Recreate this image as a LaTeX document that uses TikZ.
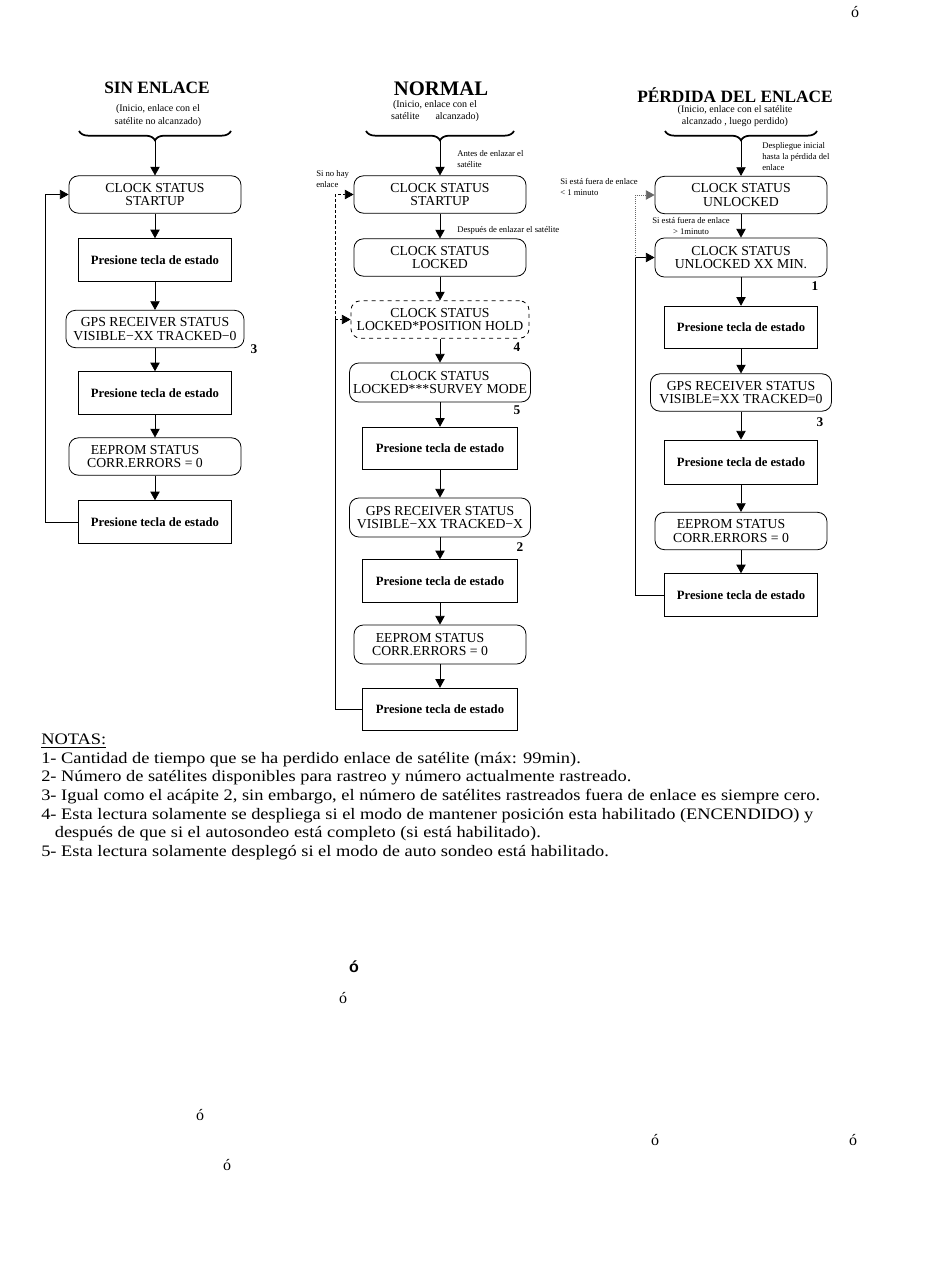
\documentclass[tikz,border=0pt]{standalone}
\usepackage{fontspec}
\setmainfont{Liberation Serif}
\newfontfamily\boldsans{Liberation Sans}
\newfontfamily\widefont[FakeStretch=1.15]{Liberation Serif}
\usetikzlibrary{arrows.meta,decorations.pathreplacing}

\tikzset{
  flow/.style={-{Triangle[width=7pt,length=6.5pt]}, line width=0.6pt},
  statebox/.style={draw, rounded corners=7pt, align=center, inner sep=0.5pt,
    minimum width=129pt, minimum height=28pt, line width=0.6pt,
    font=\fontsize{10.3}{10.2}\selectfont},
  keybox/.style={draw, minimum width=114.75pt, minimum height=32pt, line width=0.6pt,
    font=\fontsize{9.5}{11}\selectfont\bfseries},
  head/.style={font=\fontsize{13}{15}\selectfont\bfseries},
  subhead/.style={align=center, font=\fontsize{7.5}{9.4}\selectfont},
  tag/.style={align=left, inner sep=0pt, font=\fontsize{6.5}{8.5}\selectfont},
  refnum/.style={font=\fontsize{10}{11}\selectfont\bfseries},
  bracebar/.style={decorate, decoration={brace, amplitude=7pt, mirror}, line width=1.3pt},
  notes/.style={align=left, inner sep=0pt, font=\widefont\fontsize{12}{13.9}\selectfont},
  stray/.style={font=\fontsize{12}{14}\selectfont}
}

\begin{document}
\begin{tikzpicture}[x=0.75pt,y=-0.75pt]
  \useasboundingbox (0,0) rectangle (950,1267);

  \node[head] (t1) at (157,88) {SIN ENLACE};
  \node[head, font=\fontsize{15.5}{17}\selectfont\bfseries] (t2) at (441,89) {NORMAL};
  \node[head] (t3) at (735,95) {PÉRDIDA DEL ENLACE};
  \node[subhead] (s1) at (158,115.5) {(Inicio, enlace con el\\satélite no alcanzado)};
  \node[subhead] (s2) at (435,111) {(Inicio, enlace con el\\satélite\hspace{1.6em}alcanzado)};
  \node[subhead] (s3) at (735,116) {(Inicio, enlace con el satélite\\alcanzado , luego perdido)};
  \draw[bracebar] (79,131) -- (231,131);
  \draw[bracebar] (366,131) -- (514,131);
  \draw[bracebar] (665,131) -- (817,131);
  \coordinate (b1) at (155,140);
  \coordinate (b2) at (440,140);
  \coordinate (b3) at (741,140);

  \node[statebox] (L1) at (155,194.5) {CLOCK STATUS\\STARTUP};
  \node[keybox] (L2) at (155,260) {Presione tecla de estado};
  \node[statebox, minimum width=133.5pt] (L3) at (155,329) {GPS RECEIVER STATUS\\VISIBLE−XX TRACKED−0};
  \node[keybox] (L4) at (155,393) {Presione tecla de estado};
  \node[statebox] (L5) at (155,456.5) {EEPROM STATUS\hspace*{15pt}\\CORR.ERRORS = 0\hspace*{15pt}};
  \node[keybox] (L6) at (155,522) {Presione tecla de estado};

  \node[statebox] (M1) at (440,194.5) {CLOCK STATUS\\STARTUP};
  \node[statebox] (M2) at (440,257.5) {CLOCK STATUS\\LOCKED};
  \node[statebox, dashed, minimum width=133.5pt] (M3) at (440,319.5) {CLOCK STATUS\\LOCKED*POSITION HOLD};
  \node[statebox, minimum width=135.75pt, minimum height=29.25pt] (M4) at (440,382.5) {CLOCK STATUS\\LOCKED***SURVEY MODE};
  \node[keybox, minimum width=116.25pt] (M5) at (440,448.5) {Presione tecla de estado};
  \node[statebox, minimum width=135.75pt, minimum height=29.25pt] (M6) at (440,517.5) {GPS RECEIVER STATUS\\VISIBLE−XX TRACKED−X};
  \node[keybox, minimum width=116.25pt] (M7) at (440,581) {Presione tecla de estado};
  \node[statebox, minimum height=29.25pt] (M8) at (440,644.5) {EEPROM STATUS\hspace*{15pt}\\CORR.ERRORS = 0\hspace*{15pt}};
  \node[keybox, minimum width=116.25pt] (M9) at (440,709.5) {Presione tecla de estado};

  \node[statebox] (R1) at (741,195) {CLOCK STATUS\\UNLOCKED};
  \node[statebox, minimum height=29.25pt] (R2) at (741,257.5) {CLOCK STATUS\\UNLOCKED XX MIN.};
  \node[keybox] (R3) at (741,327.5) {Presione tecla de estado};
  \node[statebox, minimum width=135.75pt] (R4) at (741,392.5) {GPS RECEIVER STATUS\\VISIBLE=XX TRACKED=0};
  \node[keybox, minimum height=33pt] (R5) at (741,462) {Presione tecla de estado};
  \node[statebox] (R6) at (741,531) {EEPROM STATUS\hspace*{15pt}\\CORR.ERRORS = 0\hspace*{15pt}};
  \node[keybox] (R7) at (741,595) {Presione tecla de estado};

  \node[tag, anchor=north west] (n1) at (457,150) {Antes de enlazar el\\satélite};
  \node[tag, anchor=west] (n2) at (457,230) {Después de enlazar el satélite};
  \node[tag, anchor=north west] (n3) at (316,170) {Si no hay\\enlace};
  \node[tag, anchor=north west] (n4) at (762,142) {Despliegue inicial\\hasta la pérdida del\\enlace};
  \node[tag, anchor=north west] (n5) at (560,178) {Si está fuera de enlace\\< 1 minuto};
  \node[tag, anchor=north west, align=center] (n6) at (652,217) {Si está fuera de enlace\\> 1minuto};

  \node[refnum] (r3a) at (254,349) {3};
  \node[refnum] (r4) at (517,347) {4};
  \node[refnum] (r5) at (517,410) {5};
  \node[refnum] (r2) at (520,547) {2};
  \node[refnum] (r1) at (815,286) {1};
  \node[refnum] (r3b) at (820,422) {3};

  \begin{scope}[flow]
    \draw (b1) to (L1);
    \draw (L1) to (L2);
    \draw (L2) to (L3);
    \draw (L3) to (L4);
    \draw (L4) to (L5);
    \draw (L5) to (L6);
    \draw (b2) to (M1);
    \draw (M1) to (M2);
    \draw (M2) to (M3);
    \draw (M3) to (M4);
    \draw (M4) to (M5);
    \draw (M5) to (M6);
    \draw (M6) to (M7);
    \draw (M7) to (M8);
    \draw (M8) to (M9);
    \draw (b3) to (R1);
    \draw (R1) to (R2);
    \draw (R2) to (R3);
    \draw (R3) to (R4);
    \draw (R4) to (R5);
    \draw (R5) to (R6);
    \draw (R6) to (R7);
  \end{scope}

  \coordinate (mj) at (335,319.5);
  \coordinate (rj) at (635,257.5);
  \draw[flow] (L6.west) -- ++(-33,0) |- (L1.west);
  \draw[line width=0.6pt] (M9.west) -| (mj);
  \draw[flow, dash pattern=on 2.5pt off 1.5pt] (mj) -- (M3.west);
  \draw[flow, dash pattern=on 2.5pt off 1.5pt] (mj) |- (M1.west);
  \draw[flow] (R7.west) -| (rj) -- (R2.west);
  \draw[flow, densely dotted, draw=black!60] (rj) |- (R1.west);

  \node[notes, anchor=north west] (notas) at (41,734) {\underline{NOTAS:}\\
    1- Cantidad de tiempo que se ha perdido enlace de satélite (máx: 99min).\\
    2- Número de satélites disponibles para rastreo y número actualmente rastreado.\\
    3- Igual como el acápite 2, sin embargo, el número de satélites rastreados fuera de enlace es siempre cero.\\
    4- Esta lectura solamente se despliega si el modo de mantener posición esta habilitado (ENCENDIDO) y\\
    \hspace*{0.85em}después de que si el autosondeo está completo (si está habilitado).\\
    5- Esta lectura solamente desplegó si el modo de auto sondeo está habilitado.};

  \node[stray] (o1) at (855,12) {ó};
  \node[stray, font=\boldsans\bfseries\fontsize{12}{14}\selectfont] (o2) at (354,967) {ó};
  \node[stray] (o3) at (343,998) {ó};
  \node[stray] (o4) at (200,1115) {ó};
  \node[stray] (o5) at (655,1140) {ó};
  \node[stray] (o6) at (853,1140) {ó};
  \node[stray] (o7) at (227,1165) {ó};
\end{tikzpicture}
\end{document}
